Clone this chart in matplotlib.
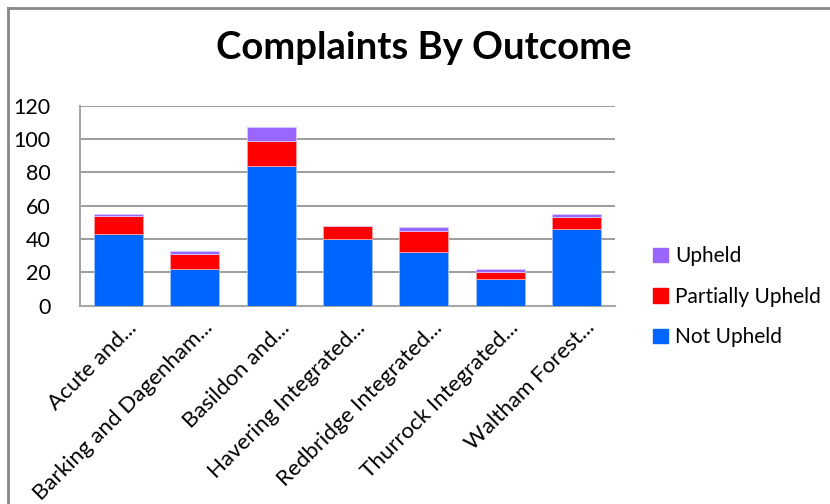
import matplotlib
matplotlib.use("Agg")
import matplotlib.pyplot as plt
import matplotlib.transforms as mtransforms
from matplotlib.lines import Line2D
from matplotlib.patches import Patch
import numpy as np

categories = ["Acute and...", "Barking and Dagenham...", "Basildon and...",
              "Havering Integrated...", "Redbridge Integrated...",
              "Thurrock Integrated...", "Waltham Forest..."]
not_upheld = [43, 22, 84, 40, 32, 16, 46]
partially_upheld = [11, 9, 15, 8, 13, 4, 7]
upheld = [1, 2, 8, 0, 2, 2, 2]
yticks = [0, 20, 40, 60, 80, 100, 120]

plt.rcParams['font.family'] = ['Lato', 'DejaVu Sans']

W, H = 830, 504
fig = plt.figure(figsize=(W / 100, H / 100), dpi=100)
ax = fig.add_axes([80 / W, 1 - 305.7 / H, 535 / W, 200 / H])

x = np.arange(len(categories))
c_blue, c_red, c_purple = "#0066FF", "#FF0000", "#9966FF"
bw = 0.64
nu = np.array(not_upheld)
pu = np.array(partially_upheld)
up = np.array(upheld)
ax.bar(x, nu, bw, color=c_blue, edgecolor="#9fbfff", linewidth=0.6, zorder=3)
ax.bar(x, pu, bw, bottom=nu, color=c_red, edgecolor="#ffa0a0", linewidth=0.6, zorder=3)
ax.bar(x, up, bw, bottom=nu + pu, color=c_purple, edgecolor="#d8c8ff", linewidth=0.6, zorder=3)

ax.set_xlim(-0.5, len(categories) - 0.5)
ax.set_ylim(0, 120)
ax.set_yticks(yticks)
ax.set_yticklabels([str(v) for v in yticks], fontsize=15.5)
ax.yaxis.grid(True, color="#8c8c8c", linewidth=1.2, zorder=0)
ax.set_axisbelow(True)
for s in ["top", "right"]:
    ax.spines[s].set_visible(False)
for s in ["left", "bottom"]:
    ax.spines[s].set_color("#a6a6a6")
    ax.spines[s].set_linewidth(1.5)
ax.tick_params(axis="y", length=0, pad=21, labelcolor="black")
ax.tick_params(axis="x", length=0)

ax.set_xticks(x)
ax.set_xticklabels(categories, fontsize=16, rotation=45, ha="right",
                   va="center", rotation_mode="anchor")
offset = mtransforms.ScaledTranslation(15 / 100, -14 / 100, fig.dpi_scale_trans)
for lbl in ax.get_xticklabels():
    lbl.set_transform(lbl.get_transform() + offset)

fig.text(424 / W, 1 - 48 / H, "Complaints By Outcome", fontsize=27.5,
         fontweight="bold", ha="center", va="center")

handles = [Patch(color=c_purple), Patch(color=c_red), Patch(color=c_blue)]
labels = ["Upheld", "Partially Upheld", "Not Upheld"]
leg = fig.legend(handles, labels, loc="upper left",
                 bbox_to_anchor=(645 / W, 1 - 238 / H), frameon=False,
                 fontsize=15, handlelength=0.7, handleheight=0.7,
                 handletextpad=0.35, labelspacing=0.98, borderaxespad=0)

# chart border (top and left edges visible)
fig.add_artist(Line2D([8 / W, 1], [1 - 7.5 / H, 1 - 7.5 / H],
                      transform=fig.transFigure, color="#878787", linewidth=2))
fig.add_artist(Line2D([8 / W, 8 / W], [0, 1 - 7.5 / H],
                      transform=fig.transFigure, color="#878787", linewidth=2))

fig.savefig("out.png", dpi=100)
